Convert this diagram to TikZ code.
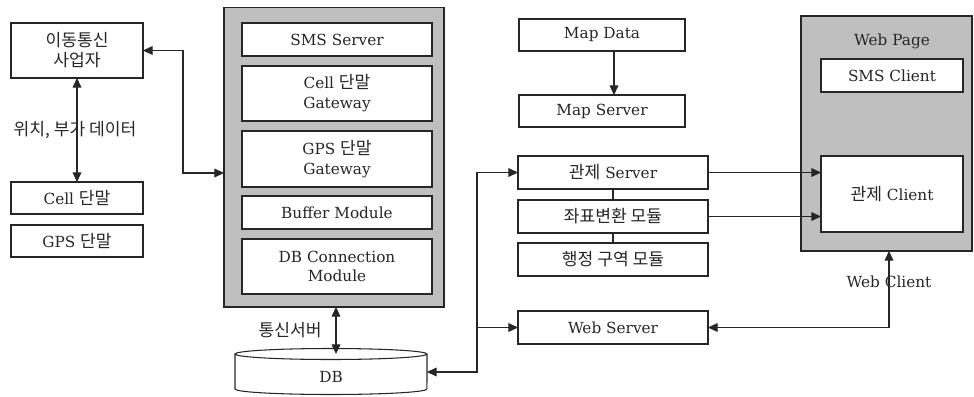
\documentclass[tikz,border=0pt]{standalone}
\usepackage{fontspec}
\setmainfont{DejaVu Serif}
\newfontfamily\kr[Scale=1.12]{Noto Sans CJK KR}
\usetikzlibrary{arrows.meta}

\begin{document}
\begin{tikzpicture}
        [x=0.02cm, y=-0.02cm, line width=0.6pt, draw=black!85,
         txt/.style={text=black!85, font=\fontsize{8.7}{11.3}\selectfont, align=center},
         box/.style={rectangle, draw=black!85, fill=white, inner sep=0pt, outer sep=0pt, txt},
         panel/.style={rectangle, draw=black!85, fill=black!25, inner sep=0pt, outer sep=0pt},
         arr/.style={-{Triangle[length=5.5pt,width=5pt]}},
         dbl/.style={{Triangle[length=5.5pt,width=5pt]}-{Triangle[length=5.5pt,width=5pt]}}]
        \useasboundingbox (0,0) rectangle (974,396);

        % left side
        \node (isp) at (77,50.5) [box, minimum width=2.64cm, minimum height=1.10cm] {{\kr 이동통신}\\{\kr 사업자}};
        \node (cell) at (77,198) [box, minimum width=2.64cm, minimum height=0.64cm] {Cell {\kr 단말}};
        \node (gps) at (77,241) [box, minimum width=2.64cm, minimum height=0.64cm] {GPS {\kr 단말}};
        \node (loclbl) at (75,130) [txt] {{\kr 위치, 부가 데이터}};

        % communication server
        \node (commsrv) at (334,157) [panel, minimum width=4.40cm, minimum height=6.00cm] {};
        \node (sms) at (337,39.5) [box, minimum width=3.80cm, minimum height=0.66cm] {SMS Server};
        \node (cellgw) at (337,93.5) [box, minimum width=3.80cm, minimum height=1.10cm] {Cell {\kr 단말}\\Gateway};
        \node (gpsgw) at (337,159) [box, minimum width=3.80cm, minimum height=1.12cm] {GPS {\kr 단말}\\Gateway};
        \node (buffer) at (337,212.5) [box, minimum width=3.80cm, minimum height=0.66cm] {Buffer Module};
        \node (dbconn) at (337,266.5) [box, minimum width=3.80cm, minimum height=1.10cm] {DB Connection\\Module};
        \node (commlbl) at (290,330) [txt] {{\kr 통신서버}};

        % database
        \draw[fill=white] (235,354) -- (235,389) arc[start angle=180, end angle=360, x radius=1.92cm, y radius=0.11cm] -- (427,354);
        \draw[fill=white] (331,354) ellipse [x radius=1.92cm, y radius=0.11cm];
        \node (db) at (331,372) [inner sep=0pt, outer sep=0pt, minimum width=3.84cm, minimum height=0.72cm] {};
        \node (dblbl) at (331,377) [txt] {DB};

        % map and control servers
        \node (mapdata) at (602,35) [box, minimum width=3.32cm, minimum height=0.64cm] {Map Data};
        \node (mapsrv) at (602,111) [box, minimum width=3.32cm, minimum height=0.64cm] {Map Server};
        \node (ctrlsrv) at (613,172.5) [box, minimum width=3.80cm, minimum height=0.66cm] {{\kr 관제} Server};
        \node (coord) at (613,216.5) [box, minimum width=3.80cm, minimum height=0.66cm] {{\kr 좌표변환 모듈}};
        \node (admin) at (613,259.5) [box, minimum width=3.80cm, minimum height=0.66cm] {{\kr 행정 구역 모듈}};
        \node (websrv) at (613,327.5) [box, minimum width=3.80cm, minimum height=0.66cm] {Web Server};

        % web page
        \node (webpage) at (886.5,133.5) [panel, minimum width=3.42cm, minimum height=4.70cm] {};
        \node (weblbl) at (892,41) [txt] {Web Page};
        \node (smscl) at (892,75.5) [box, minimum width=2.84cm, minimum height=0.66cm] {SMS Client};
        \node (ctrlcl) at (892,194) [box, minimum width=2.84cm, minimum height=1.52cm] {{\kr 관제} Client};

        % connectors
        \coordinate (ispbend) at (183,173);
        \coordinate (dbtop) at (336,354);
        \coordinate (bus) at (477,250);
        \coordinate (wcbend) at (889,326.5);
        \draw[dbl] (isp.south) -- (cell.north);
        \draw[dbl] (isp.east) -| (ispbend) -- (ispbend -| commsrv.west);
        \draw[dbl] (commsrv.south -| dbtop) -- (dbtop);
        \draw[arr] ([xshift=0.24cm]mapdata.south) -- ([xshift=0.24cm]mapsrv.north);
        \draw (ctrlsrv.south) -- (coord.north);
        \draw (coord.south) -- (admin.north);
        \draw[arr] (ctrlsrv.east) -- (ctrlsrv.east -| ctrlcl.west);
        \draw[arr] (coord.east) -- (coord.east -| ctrlcl.west);
        \draw[dbl] (db.east) -| (bus) |- (ctrlsrv.west);
        \draw[arr] (websrv.west -| bus) -- (websrv.west);
        \draw[dbl] (websrv.east) -| (webpage.south -| wcbend);
        \node (wclbl) at (889,282) [txt] {Web Client};
\end{tikzpicture}
\end{document}
